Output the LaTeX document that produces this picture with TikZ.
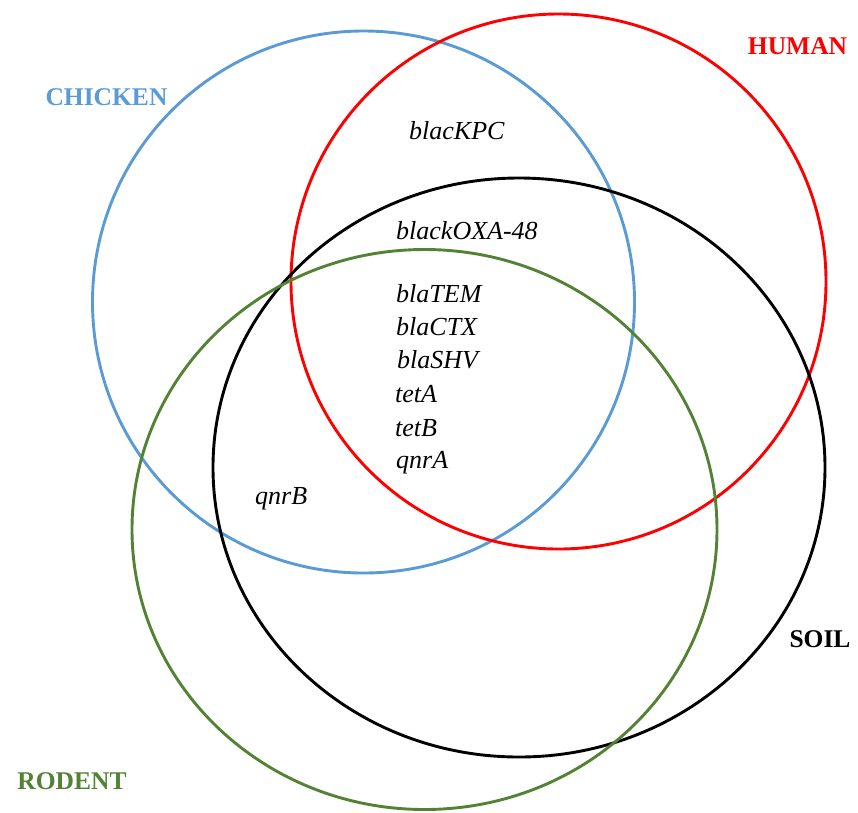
\documentclass[tikz,border=0pt]{standalone}
\usepackage{fontspec}
\setmainfont{Liberation Serif}
\definecolor{chickenblue}{RGB}{91,155,213}
\definecolor{humanred}{RGB}{255,0,0}
\definecolor{rodentgreen}{RGB}{84,130,53}
\begin{document}
\begin{tikzpicture}[
    x=1pt, y=-1pt,
    set/.style={line width=2.9pt},
    setname/.style={font=\fontsize{25.5}{28}\selectfont\bfseries, inner sep=0pt},
    gene/.style={font=\fontsize{26}{28}\selectfont\itshape, anchor=base west, inner sep=0pt}
]
\useasboundingbox (0,0) rectangle (858,812);

% Sets
\draw[set, chickenblue] (363.5,302) circle [radius=271pt];
\draw[set, humanred] (558.5,281.5) circle [radius=267.5pt];
\draw[set, black] (519,467.5) ellipse [x radius=306pt, y radius=289.5pt];
\draw[set, rodentgreen] (424.5,529.5) ellipse [x radius=292.5pt, y radius=280pt];

% Set names
\node[setname, text=chickenblue] (chicken) at (106.5,97) {CHICKEN};
\node[setname, text=humanred] (human) at (797.5,46) {HUMAN};
\node[setname, text=black] (soil) at (820,639.5) {SOIL};
\node[setname, text=rodentgreen] (rodent) at (72,781) {RODENT};

% Genes
\node[gene] (kpc) at (409,139) {blacKPC};
\node[gene] (oxa) at (396,239) {blackOXA-48};
\node[gene] (tem) at (396,302) {blaTEM};
\node[gene] (ctx) at (396,335) {blaCTX};
\node[gene] (shv) at (397,368) {blaSHV};
\node[gene] (teta) at (395,402) {tetA};
\node[gene] (tetb) at (395,436) {tetB};
\node[gene] (qnra) at (396,468) {qnrA};
\node[gene] (qnrb) at (255,504) {qnrB};

\end{tikzpicture}
\end{document}
